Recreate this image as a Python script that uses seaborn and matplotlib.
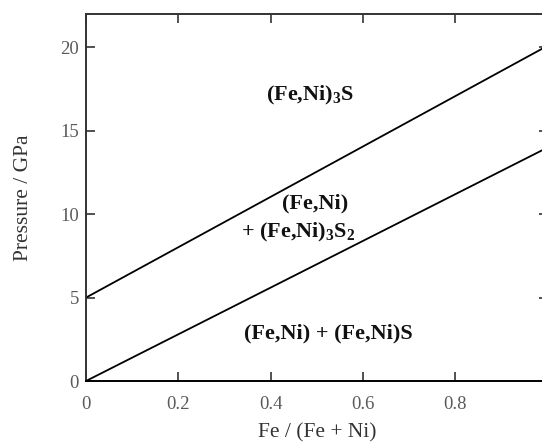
import matplotlib
matplotlib.use("Agg")
import matplotlib.pyplot as plt
import seaborn as sns
import pandas as pd

# Data
fe_fraction = [0.0, 1.0]
upper_boundary = [5.0, 20.1]
lower_boundary = [0.0, 14.0]
x_ticks = [0.0, 0.2, 0.4, 0.6, 0.8]
x_tick_labels = ["0", "0.2", "0.4", "0.6", "0.8"]
y_ticks = [0, 5, 10, 15, 20]
y_tick_labels = ["0", "5", "10", "15", "20"]
region_labels = ["(Fe,Ni)$_3$S", "(Fe,Ni)", "+ (Fe,Ni)$_3$S$_2$", "(Fe,Ni) + (Fe,Ni)S"]
region_x = [0.485, 0.496, 0.46, 0.525]
region_y = [17.1, 10.66, 8.9, 2.87]

sns.set_theme(style="ticks")
plt.rcParams["font.family"] = ["Liberation Serif", "DejaVu Serif"]
plt.rcParams["mathtext.fontset"] = "custom"
plt.rcParams["mathtext.rm"] = "Liberation Serif:bold"
plt.rcParams["mathtext.it"] = "Liberation Serif:bold"
plt.rcParams["mathtext.bf"] = "Liberation Serif:bold"

df = pd.DataFrame({
    "x": fe_fraction * 2,
    "y": upper_boundary + lower_boundary,
    "line": ["upper"] * len(fe_fraction) + ["lower"] * len(fe_fraction),
})

fig = plt.figure(figsize=(5.42, 4.43), dpi=100)
ax = fig.add_axes([86 / 542, 62 / 443, 461.7 / 542, 367 / 443])

sns.lineplot(data=df, x="x", y="y", units="line", estimator=None,
             color="black", linewidth=1.3, ax=ax, legend=False)

ax.set_xlim(0, 1)
ax.set_ylim(0, 22)
ax.set_xticks(x_ticks)
ax.set_xticklabels(x_tick_labels)
ax.set_yticks(y_ticks)
ax.set_yticklabels(y_tick_labels)
ax.tick_params(direction="in", length=6.5, width=1.2, color="#333333",
               labelsize=13.5, labelcolor="#5a5a5a", top=True, right=True)
ax.tick_params(axis="x", pad=11)
ax.tick_params(axis="y", pad=5)

for s in ax.spines.values():
    s.set_color("#333333")
    s.set_linewidth(1.4)
ax.spines["bottom"].set_color("black")

ax.set_xlabel("Fe / (Fe + Ni)", fontsize=15.5, color="#333333", labelpad=7)
ax.set_ylabel("Pressure / GPa", fontsize=15.5, color="#333333", labelpad=20)

for lab, xx, yy in zip(region_labels, region_x, region_y):
    ax.text(xx, yy, lab, ha="center", va="center", fontsize=16,
            fontweight="bold", color="#111111")

fig.savefig("out.png", dpi=100)
